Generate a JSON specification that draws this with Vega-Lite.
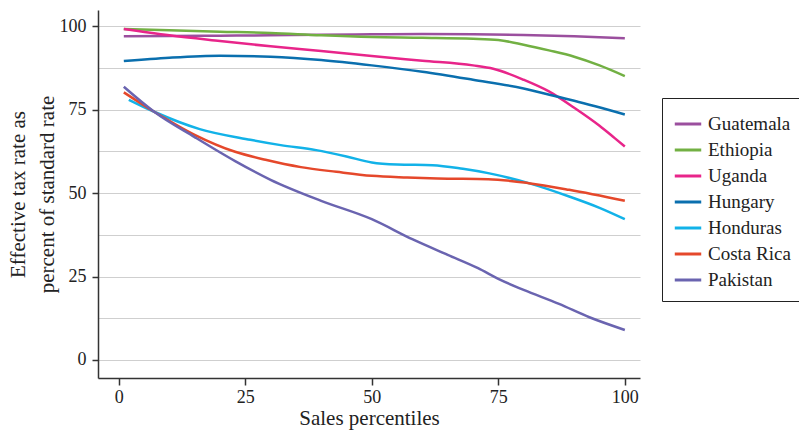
{
  "$schema": "https://vega.github.io/schema/vega-lite/v6.json",
  "autosize": "none",
  "width": 542,
  "height": 368,
  "padding": {"left": 98, "top": 10, "right": 159, "bottom": 52},
  "background": "white",
  "config": {
    "font": "Liberation Serif",
    "view": {"stroke": null},
    "axis": {"labelFont": "Liberation Serif", "titleFont": "Liberation Serif", "labelColor": "#222", "titleColor": "#222", "titleFontWeight": "normal", "domainColor": "#333", "tickColor": "#333"},
    "legend": {"labelFont": "Liberation Serif", "titleFont": "Liberation Serif"}
  },
  "data": {"values": [
    {"country": "Guatemala", "p": 1, "v": 97.0},
    {"country": "Guatemala", "p": 10, "v": 97.1},
    {"country": "Guatemala", "p": 20, "v": 97.2},
    {"country": "Guatemala", "p": 30, "v": 97.3},
    {"country": "Guatemala", "p": 40, "v": 97.5},
    {"country": "Guatemala", "p": 50, "v": 97.6},
    {"country": "Guatemala", "p": 60, "v": 97.7},
    {"country": "Guatemala", "p": 70, "v": 97.6},
    {"country": "Guatemala", "p": 80, "v": 97.4},
    {"country": "Guatemala", "p": 90, "v": 97.0},
    {"country": "Guatemala", "p": 100, "v": 96.4},
    {"country": "Ethiopia", "p": 1, "v": 99.2},
    {"country": "Ethiopia", "p": 10, "v": 98.8},
    {"country": "Ethiopia", "p": 20, "v": 98.4},
    {"country": "Ethiopia", "p": 30, "v": 98.0},
    {"country": "Ethiopia", "p": 40, "v": 97.3},
    {"country": "Ethiopia", "p": 50, "v": 96.8},
    {"country": "Ethiopia", "p": 60, "v": 96.6},
    {"country": "Ethiopia", "p": 70, "v": 96.3},
    {"country": "Ethiopia", "p": 75, "v": 95.9},
    {"country": "Ethiopia", "p": 80, "v": 94.5},
    {"country": "Ethiopia", "p": 85, "v": 92.8},
    {"country": "Ethiopia", "p": 90, "v": 90.9},
    {"country": "Ethiopia", "p": 95, "v": 88.3},
    {"country": "Ethiopia", "p": 100, "v": 85.1},
    {"country": "Uganda", "p": 1, "v": 99.2},
    {"country": "Uganda", "p": 10, "v": 97.3},
    {"country": "Uganda", "p": 20, "v": 95.6},
    {"country": "Uganda", "p": 30, "v": 94.0},
    {"country": "Uganda", "p": 40, "v": 92.6},
    {"country": "Uganda", "p": 50, "v": 91.1},
    {"country": "Uganda", "p": 60, "v": 89.7},
    {"country": "Uganda", "p": 70, "v": 88.3},
    {"country": "Uganda", "p": 74, "v": 87.3},
    {"country": "Uganda", "p": 80, "v": 84.0},
    {"country": "Uganda", "p": 85, "v": 80.5},
    {"country": "Uganda", "p": 90, "v": 75.6},
    {"country": "Uganda", "p": 95, "v": 70.2},
    {"country": "Uganda", "p": 98, "v": 66.5},
    {"country": "Uganda", "p": 100, "v": 64.0},
    {"country": "Hungary", "p": 1, "v": 89.6},
    {"country": "Hungary", "p": 10, "v": 90.6},
    {"country": "Hungary", "p": 20, "v": 91.2},
    {"country": "Hungary", "p": 30, "v": 90.9},
    {"country": "Hungary", "p": 40, "v": 89.9},
    {"country": "Hungary", "p": 50, "v": 88.3},
    {"country": "Hungary", "p": 60, "v": 86.4},
    {"country": "Hungary", "p": 70, "v": 84.0},
    {"country": "Hungary", "p": 80, "v": 81.4},
    {"country": "Hungary", "p": 87, "v": 78.8},
    {"country": "Hungary", "p": 90, "v": 77.7},
    {"country": "Hungary", "p": 100, "v": 73.6},
    {"country": "Honduras", "p": 2, "v": 78.0},
    {"country": "Honduras", "p": 7, "v": 74.4},
    {"country": "Honduras", "p": 16, "v": 69.2},
    {"country": "Honduras", "p": 26, "v": 66.0},
    {"country": "Honduras", "p": 32, "v": 64.4},
    {"country": "Honduras", "p": 39, "v": 62.9},
    {"country": "Honduras", "p": 45, "v": 61.0},
    {"country": "Honduras", "p": 50, "v": 59.2},
    {"country": "Honduras", "p": 55, "v": 58.6},
    {"country": "Honduras", "p": 62, "v": 58.4},
    {"country": "Honduras", "p": 68, "v": 57.3},
    {"country": "Honduras", "p": 73, "v": 56.0},
    {"country": "Honduras", "p": 81, "v": 53.0},
    {"country": "Honduras", "p": 89, "v": 49.0},
    {"country": "Honduras", "p": 95, "v": 45.6},
    {"country": "Honduras", "p": 100, "v": 42.2},
    {"country": "Costa Rica", "p": 1, "v": 80.2},
    {"country": "Costa Rica", "p": 7, "v": 74.4},
    {"country": "Costa Rica", "p": 15, "v": 67.5},
    {"country": "Costa Rica", "p": 23, "v": 62.4},
    {"country": "Costa Rica", "p": 29, "v": 60.0},
    {"country": "Costa Rica", "p": 36, "v": 57.8},
    {"country": "Costa Rica", "p": 43, "v": 56.4},
    {"country": "Costa Rica", "p": 50, "v": 55.2},
    {"country": "Costa Rica", "p": 57, "v": 54.7},
    {"country": "Costa Rica", "p": 63, "v": 54.4},
    {"country": "Costa Rica", "p": 73, "v": 54.2},
    {"country": "Costa Rica", "p": 81, "v": 53.0},
    {"country": "Costa Rica", "p": 89, "v": 51.0},
    {"country": "Costa Rica", "p": 100, "v": 47.7},
    {"country": "Pakistan", "p": 1, "v": 81.9},
    {"country": "Pakistan", "p": 7, "v": 74.4},
    {"country": "Pakistan", "p": 15, "v": 66.8},
    {"country": "Pakistan", "p": 23, "v": 59.6},
    {"country": "Pakistan", "p": 30, "v": 54.0},
    {"country": "Pakistan", "p": 40, "v": 47.7},
    {"country": "Pakistan", "p": 50, "v": 42.2},
    {"country": "Pakistan", "p": 58, "v": 36.2},
    {"country": "Pakistan", "p": 65, "v": 31.5},
    {"country": "Pakistan", "p": 71, "v": 27.5},
    {"country": "Pakistan", "p": 75, "v": 24.3},
    {"country": "Pakistan", "p": 80, "v": 21.0},
    {"country": "Pakistan", "p": 87, "v": 16.8},
    {"country": "Pakistan", "p": 93, "v": 12.8},
    {"country": "Pakistan", "p": 100, "v": 9.0}
  ]},
  "mark": {"type": "line", "interpolate": "monotone", "strokeWidth": 2.5, "clip": true},
  "encoding": {
    "x": {
      "field": "p", "type": "quantitative",
      "scale": {"domain": [-4.1, 103], "nice": false, "zero": false},
      "axis": {"values": [0, 25, 50, 75, 100], "title": "Sales percentiles", "grid": false, "labelFont": "Liberation Serif", "titleFont": "Liberation Serif", "labelFontSize": 18, "titleFontSize": 21, "tickSize": 7, "tickWidth": 1.5, "domainWidth": 1.5, "labelPadding": 3, "titlePadding": 1, "labelFlush": false}
    },
    "y": {
      "field": "v", "type": "quantitative",
      "scale": {"domain": [-5.4, 104.9], "nice": false, "zero": false},
      "axis": {
        "values": [0, 12.5, 25, 37.5, 50, 62.5, 75, 87.5, 100],
        "labelExpr": "datum.value % 25 === 0 ? datum.label : ''",
        "tickOpacity": {"condition": {"test": "datum.value % 25 === 0", "value": 1}, "value": 0},
        "title": ["Effective tax rate as", "percent of standard rate"],
        "grid": true, "gridColor": "#cfcfcf", "gridWidth": 1.2,
        "labelFont": "Liberation Serif", "titleFont": "Liberation Serif",
        "labelFontSize": 18, "titleFontSize": 21, "tickSize": 6, "tickWidth": 1.5, "domainWidth": 1.5, "labelPadding": 6, "titlePadding": 2, "labelFlush": false, "titleLineHeight": 29
      }
    },
    "color": {
      "field": "country", "type": "nominal",
      "scale": {
        "domain": ["Guatemala", "Ethiopia", "Uganda", "Hungary", "Honduras", "Costa Rica", "Pakistan"],
        "range": ["#9b4f9e", "#72b043", "#e8258a", "#0a6fae", "#12b2e8", "#e5482b", "#6a64b0"]
      },
      "legend": {
        "title": null, "orient": "none", "legendX": 564, "legendY": 88,
        "symbolType": "stroke", "symbolStrokeWidth": 3, "symbolSize": 700,
        "labelFont": "Liberation Serif", "labelFontSize": 19, "labelColor": "#222", "labelOffset": 5,
        "rowPadding": 1, "padding": 11, "strokeColor": "#222", "fillColor": "white", "labelLimit": 200
      }
    }
  }
}
